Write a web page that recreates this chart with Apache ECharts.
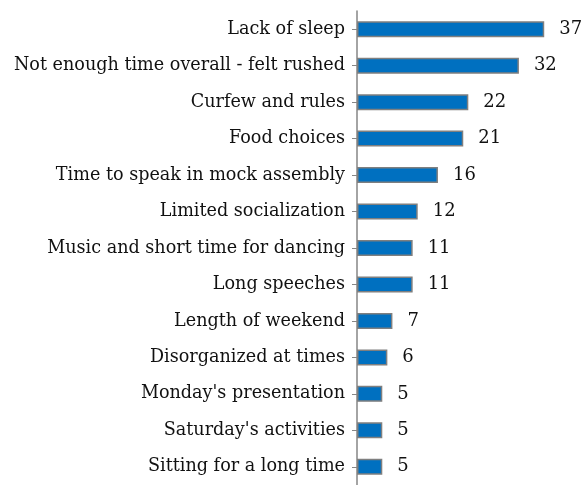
<!DOCTYPE html>
<html>
<head>
<meta charset="utf-8">
<script src="https://cdn.jsdelivr.net/npm/echarts@6/dist/echarts.min.js"></script>
<style>
  html, body { margin: 0; padding: 0; background: #fff; }
  #chart { width: 584px; height: 485px; }
</style>
</head>
<body>
<div id="chart"></div>
<script>
// Survey complaints, listed top to bottom
const categories = [
  "Lack of sleep",
  "Not enough time overall - felt rushed",
  "Curfew and rules",
  "Food choices",
  "Time to speak in mock assembly",
  "Limited socialization",
  "Music and short time for dancing",
  "Long speeches",
  "Length of weekend",
  "Disorganized at times",
  "Monday's presentation",
  "Saturday's activities",
  "Sitting for a long time"
];
const counts = [37, 32, 22, 21, 16, 12, 11, 11, 7, 6, 5, 5, 5];

const FONT = "DejaVu Serif";

const chart = echarts.init(document.getElementById("chart"), null, { renderer: "canvas" });
chart.setOption({
  animation: false,
  grid: { left: 357, top: 11, width: 202.4, height: 480, containLabel: false },
  xAxis: {
    type: "value",
    min: 0,
    max: 40,
    show: false
  },
  yAxis: {
    type: "category",
    inverse: true,
    data: categories,
    boundaryGap: true,
    axisLine: { show: true, lineStyle: { color: "#868686", width: 1.5 } },
    axisTick: { show: true, alignWithLabel: true, length: 5, lineStyle: { color: "#868686", width: 1 } },
    axisLabel: { color: "#111", fontFamily: FONT, fontSize: 17.6, margin: 12 },
    splitLine: { show: false }
  },
  series: [{
    type: "bar",
    data: counts,
    barWidth: 16,
    itemStyle: { color: "#0070C0", borderColor: "#7f7f7f", borderWidth: 1.5 },
    label: {
      show: true,
      position: "right",
      distance: 15,
      fontSize: 18,
      fontFamily: FONT,
      color: "#111"
    }
  }]
});
</script>
</body>
</html>
